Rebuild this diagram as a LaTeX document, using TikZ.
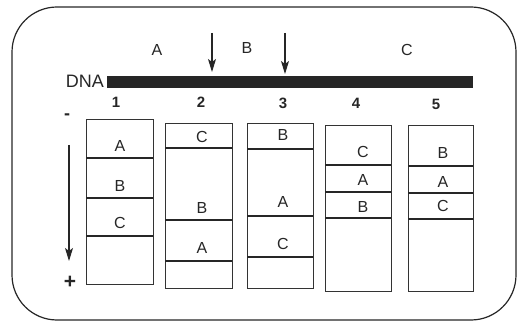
\documentclass[tikz,border=0pt]{standalone}
\usepackage{fontspec}
\setmainfont{Liberation Sans}
\usetikzlibrary{arrows.meta}
\tikzset{
  lbl/.style={font=\fontsize{16}{16}\selectfont, inner sep=0pt, text=black!85},
  num/.style={font=\bfseries\fontsize{15}{15}\selectfont, inner sep=0pt, text=black!85},
  lane/.style={draw=black!80, line width=0.9pt},
  band/.style={draw=black!85, line width=2pt},
  cut/.style={draw=black!85, line width=1.1pt, -{Stealth[length=13pt,width=8pt,inset=3pt]}},
}
\begin{document}
\begin{tikzpicture}[x=1pt,y=-1pt]
\useasboundingbox (0,0) rectangle (525,323);
% frame
\draw[black!85, line width=1.2pt, rounded corners=45pt] (12,7) rectangle (516,320);
% DNA
\node[lbl, font=\fontsize{18}{18}\selectfont, anchor=east] (dna) at (104,81) {DNA};
\fill[black!85] (107,76) rectangle (473,88);
\node[lbl] (fa) at (157,50) {A};
\node[lbl] (fb) at (247,48) {B};
\node[lbl] (fc) at (407,50) {C};
\coordinate (c1s) at (212,33); \coordinate (c1e) at (212,72);
\coordinate (c2s) at (285,33); \coordinate (c2e) at (285,74);
\draw[cut] (c1s) -- (c1e);
\draw[cut] (c2s) -- (c2e);
% lane numbers
\node[num] (n1) at (116,102) {1};
\node[num] (n2) at (201,102) {2};
\node[num] (n3) at (283,103) {3};
\node[num] (n4) at (356,103) {4};
\node[num] (n5) at (436,104) {5};
% direction
\node[num, font=\bfseries\fontsize{18}{18}\selectfont] (minus) at (67,117) {-};
\node[num, font=\bfseries\fontsize{21}{21}\selectfont] (plus) at (70,282) {+};
\coordinate (ds) at (69,145); \coordinate (de) at (69,261);
\draw[cut] (ds) -- (de);
% lane 1
\draw[lane] (86,119) rectangle (153,284);
\draw[band] (86,158) -- (153,158);
\draw[band] (86,198) -- (153,198);
\draw[band] (86,236) -- (153,236);
\node[lbl] (a1) at (120,146) {A};
\node[lbl] (b1) at (120,186) {B};
\node[lbl] (c1) at (120,223) {C};
% lane 2
\draw[lane] (165,123) rectangle (232,288);
\draw[band] (165,148) -- (232,148);
\draw[band] (165,220) -- (232,220);
\draw[band] (165,261) -- (232,261);
\node[lbl] (c2) at (202,137) {C};
\node[lbl] (b2) at (202,208) {B};
\node[lbl] (a2) at (202,248) {A};
% lane 3
\draw[lane] (247,123) rectangle (313,288);
\draw[band] (247,149) -- (313,149);
\draw[band] (247,216) -- (313,216);
\draw[band] (247,257) -- (313,257);
\node[lbl] (b3) at (283,135) {B};
\node[lbl] (a3) at (283,202) {A};
\node[lbl] (c3) at (283,244) {C};
% lane 4
\draw[lane] (325,125) rectangle (391,291);
\draw[band] (325,165) -- (391,165);
\draw[band] (325,192) -- (391,192);
\draw[band] (325,218) -- (391,218);
\node[lbl] (c4) at (363,152) {C};
\node[lbl] (a4) at (363,180) {A};
\node[lbl] (b4) at (363,207) {B};
% lane 5
\draw[lane] (408,125) rectangle (473,291);
\draw[band] (408,166) -- (473,166);
\draw[band] (408,193) -- (473,193);
\draw[band] (408,219) -- (473,219);
\node[lbl] (b5) at (443,153) {B};
\node[lbl] (a5) at (443,182) {A};
\node[lbl] (c5) at (443,206) {C};
\end{tikzpicture}
\end{document}
